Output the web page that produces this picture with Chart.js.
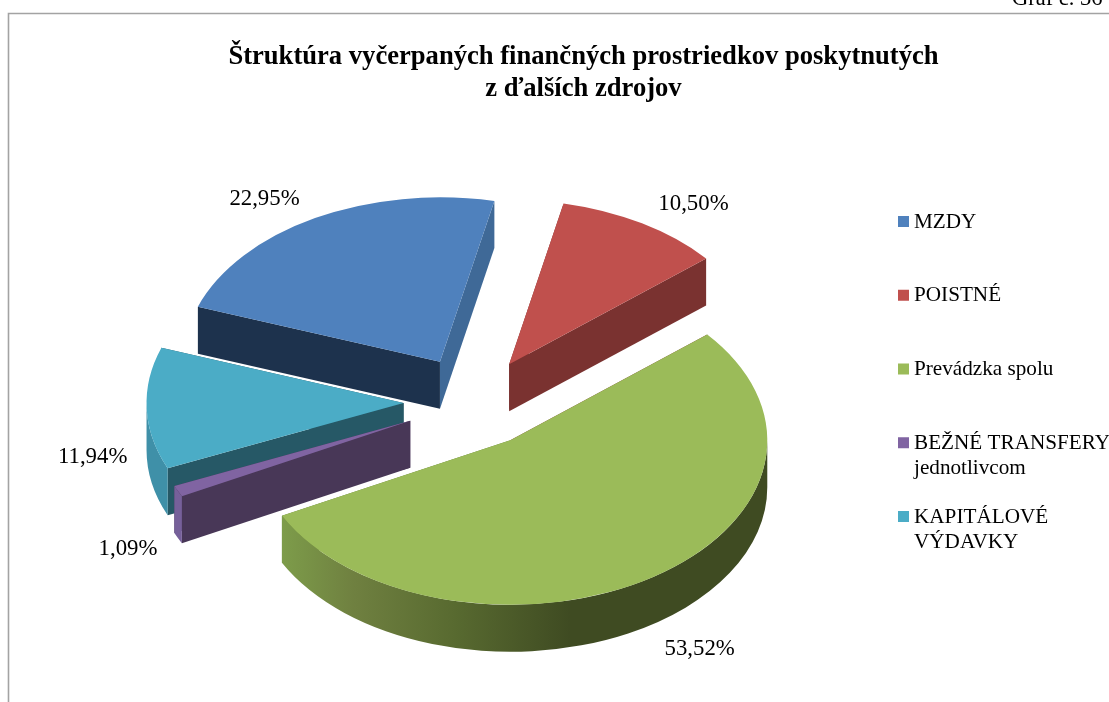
<!DOCTYPE html>
<html><head><meta charset="utf-8">
<style>html,body{margin:0;padding:0;background:#fff;overflow:hidden}canvas{display:block}</style>
<script src="https://cdn.jsdelivr.net/npm/chart.js@4"></script>
</head><body><canvas id="c" width="1109" height="702"></canvas>
<script>
const titleLines = ['Štruktúra vyčerpaných finančných prostriedkov poskytnutých', 'z ďalších zdrojov'];
const categories = ['MZDY', 'POISTNÉ', 'Prevádzka spolu', ['BEŽNÉ TRANSFERY', 'jednotlivcom'], ['KAPITÁLOVÉ', 'VÝDAVKY']];
const values = [22.95, 10.50, 53.52, 1.09, 11.94];
const cornerNote = 'Graf č. 36';

const topColors = ['#4f81bd', '#c0504d', '#9bbb59', '#8064a2', '#4bacc6'];
const startWallColors = ['#1d324d', '#7a3230', '#7a3230', '#483757', '#265866'];
const endWallColors = ['#3f6997', '#7a3230', '#5f7a35', '#483757', '#265866'];
const rimColors = ['#3f6997', '#7a3230', null, '#76609a', '#3f90a8'];
const labelNudge = [[-50, -19], [51, -18], [45, 74], [-50, 58], [-54, 49]];
const sliceNudge = [[0.5, 0], [-0.5, 1.5], [-2, 2], [0, 0.5], [0, 0.5]];

const SERIF = '"Liberation Serif", "Times New Roman", serif';
const PIE = {cx: 473.5, cy: 401, r: 257, squash: 0.64, depth: 47, explode: 70};

function pct(v) { return v.toFixed(2).replace('.', ',') + '%'; }

const pie3d = {
  id: 'pie3d',
  beforeDraw(chart) {
    const ctx = chart.ctx;
    ctx.save();
    ctx.strokeStyle = '#a3a3a3';
    ctx.lineWidth = 1.6;
    ctx.beginPath();
    ctx.moveTo(8.5, 702); ctx.lineTo(8.5, 13.5); ctx.lineTo(1109, 13.5);
    ctx.stroke();
    ctx.restore();
  },
  beforeDatasetsDraw(chart) {
    const ctx = chart.ctx;
    const {cx, cy, squash: k, depth, explode} = PIE;
    const arcs = chart.getDatasetMeta(0).data;
    // back slices first, green front slice last
    [0, 1, 4, 3, 2].forEach(i => {
      const arc = arcs[i];
      const {startAngle: s, endAngle: e, outerRadius: R} = arc;
      const mid = (s + e) / 2;
      const ox = cx + Math.cos(mid) * explode + sliceNudge[i][0];
      const oy = cy + Math.sin(mid) * explode * k + sliceNudge[i][1];
      const wall = (a, color) => {
        const px = ox + Math.cos(a) * R, py = oy + Math.sin(a) * R * k;
        ctx.fillStyle = color;
        ctx.beginPath();
        ctx.moveTo(ox, oy); ctx.lineTo(px, py); ctx.lineTo(px, py + depth); ctx.lineTo(ox, oy + depth);
        ctx.closePath(); ctx.fill();
      };
      // the wall nearer the viewer goes last
      if (Math.sin(s) > Math.sin(e)) { wall(e, endWallColors[i]); wall(s, startWallColors[i]); }
      else { wall(s, startWallColors[i]); wall(e, endWallColors[i]); }
      const a1 = Math.max(s, 0), a2 = Math.min(e, Math.PI);
      if (a2 > a1) {
        let fill = rimColors[i];
        if (!fill) {
          const g = ctx.createLinearGradient(282, 0, 570, 0);
          g.addColorStop(0, '#7d9c4a');
          g.addColorStop(0.25, '#6f8040');
          g.addColorStop(0.6, '#586a30');
          g.addColorStop(1, '#3f4b22');
          fill = g;
        }
        ctx.fillStyle = fill;
        ctx.beginPath();
        ctx.ellipse(ox, oy, R, R * k, 0, a1, a2);
        ctx.ellipse(ox, oy + depth, R, R * k, 0, a2, a1, true);
        ctx.closePath(); ctx.fill();
      }
      ctx.save();
      ctx.translate(ox, oy);
      ctx.scale(1, k);
      ctx.translate(-arc.x, -arc.y);
      arc.draw(ctx);
      ctx.restore();
    });
    return false;
  },
  afterDraw(chart) {
    const ctx = chart.ctx;
    const {cx, cy, squash: k, explode} = PIE;
    const arcs = chart.getDatasetMeta(0).data;
    ctx.save();
    ctx.fillStyle = '#000';
    ctx.textBaseline = 'alphabetic';
    ctx.font = '22.5px ' + SERIF;
    ctx.textAlign = 'left';
    ctx.fillText(cornerNote, 1012, 5);
    // percentage labels
    ctx.font = '22.8px ' + SERIF;
    ctx.textAlign = 'center';
    ctx.textBaseline = 'middle';
    arcs.forEach((arc, i) => {
      const mid = (arc.startAngle + arc.endAngle) / 2;
      const d = arc.outerRadius + explode;
      const x = cx + Math.cos(mid) * d + labelNudge[i][0];
      const y = cy + Math.sin(mid) * d * k + labelNudge[i][1];
      ctx.fillText(pct(values[i]), x, y);
    });
    // legend
    ctx.textAlign = 'left';
    ctx.font = '21.2px ' + SERIF;
    categories.forEach((cat, i) => {
      const y = 222 + i * 73.75;
      ctx.fillStyle = topColors[i];
      ctx.fillRect(898, y - 6, 11, 11);
      ctx.fillStyle = '#000';
      [].concat(cat).forEach((line, j) => ctx.fillText(line, 914, y + j * 25.5));
    });
    ctx.restore();
  }
};

new Chart(document.getElementById('c'), {
  type: 'pie',
  data: {
    labels: categories,
    datasets: [{data: values, backgroundColor: topColors, borderWidth: 0, radius: PIE.r}]
  },
  options: {
    responsive: false,
    animation: false,
    rotation: -70.4,
    layout: {padding: {left: 58, top: 0}},
    plugins: {
      legend: {display: false},
      tooltip: {enabled: false},
      title: {
        display: true,
        text: titleLines,
        color: '#000',
        align: 'center',
        font: {family: SERIF, size: 26.6, weight: 'bold', lineHeight: 1.2},
        padding: {top: 41, bottom: 10}
      }
    }
  },
  plugins: [pie3d]
});
</script></body></html>
